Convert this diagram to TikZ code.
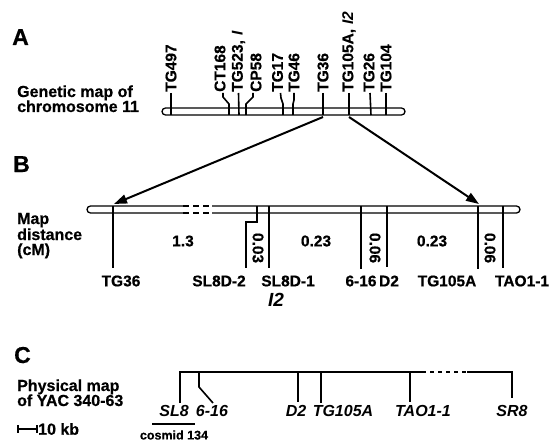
\documentclass[tikz,border=0pt]{standalone}
\usepackage{fontspec}
\setmainfont{Liberation Sans}[BoldFeatures={FakeBold=0.6}]
\usetikzlibrary{arrows.meta}
\begin{document}
\begin{tikzpicture}[x=1pt,y=-1pt,
  lbl/.style={font=\fontsize{15.5}{15}\selectfont\bfseries, inner sep=0pt},
  vlbl/.style={lbl, rotate=90, anchor=west},
  num/.style={font=\fontsize{15.5}{15}\selectfont\bfseries, inner sep=0pt},
  side/.style={font=\fontsize{16}{16}\selectfont\bfseries, inner sep=0pt, anchor=base west},
  panel/.style={font=\fontsize{23}{23}\selectfont\bfseries, inner sep=0pt, anchor=base west},
  tick/.style={line width=1.6pt},
  barln/.style={line width=1.3pt, rounded corners=3.5pt},
  bigarrow/.style={line width=2pt, -{Triangle[length=13pt,width=9pt]}},
  clbl/.style={font=\fontsize{16}{16}\selectfont\bfseries\itshape, inner sep=0pt}
]
\useasboundingbox (0,0) rectangle (554,441);

% ---------- Panel A ----------
\node[panel] (pA) at (12,45) {A};
\node[side] (ga1) at (17,97) {Genetic map of};
\node[side] (ga2) at (17,112) {chromosome 11};

\draw[barln] (162,108) rectangle (405,115);

\node[vlbl] (a1) at (171,92) {TG497};
\node[vlbl] (a2) at (220,92) {CT168};
\node[vlbl] (a3) at (238.5,92) {TG523, \textit{I}};
\node[vlbl] (a4) at (256,92) {CP58};
\node[vlbl] (a5) at (277.5,92) {TG17};
\node[vlbl] (a6) at (294,92) {TG46};
\node[vlbl] (a7) at (323,92) {TG36};
\node[vlbl] (a8) at (349,92) {TG105A, \textit{I2}};
\node[vlbl] (a9) at (369,92) {TG26};
\node[vlbl] (a10) at (386,92) {TG104};

\draw[tick] (a1.west) ++(0,1) -- (171,115);
\draw[tick] (a2.west) ++(3,1) -- (223,97) -- (229,104) -- (229,115);
\draw[tick] (a3.west) ++(0,1) -- (239,115);
\draw[tick] (a4.west) ++(-3,1) -- (253,97) -- (246,104) -- (246,115);
\draw[tick] (a5.west) ++(3,1) -- (281,98) -- (283,104) -- (283,115);
\draw[tick] (a6.west) ++(0,1) -- (294,100) -- (293,104) -- (293,115);
\draw[tick] (a7.west) ++(0,1) -- (323,115);
\draw[tick] (a8.west) ++(0,1) -- (349,115);
\draw[tick] (a9.west) ++(1,1) -- (371,115);
\draw[tick] (a10.west) ++(0,1) -- (386,115);

\coordinate (s1) at (323,117);
\coordinate (s2) at (349,117);
\coordinate (t1) at (114,204);
\coordinate (t2) at (479,204);
\draw[bigarrow] (s1) -- (t1);
\draw[bigarrow] (s2) -- (t2);

% ---------- Panel B ----------
\node[panel] (pB) at (13,172) {B};
\node[side] (mb1) at (17,224) {Map};
\node[side] (mb2) at (17,240) {distance};
\node[side] (mb3) at (17,255) {(cM)};

\draw[barln] (87,206) rectangle (520,213);
\fill[white] (183,203) rectangle (212,216);
\draw[line width=1.3pt, dash pattern=on 6pt off 4pt] (183,206) -- (212,206);
\draw[line width=1.3pt, dash pattern=on 6pt off 4pt] (183,213) -- (212,213);

\coordinate (b1) at (113,268);
\coordinate (b2) at (246,268);
\coordinate (b3) at (269,268);
\coordinate (b4) at (361,269);
\coordinate (b5) at (387,267);
\coordinate (b6) at (478,269);
\coordinate (b7) at (503,268);
\draw[tick] (113,206) -- (b1);
\draw[tick] (257,206) -- (257,222) -- (246,222) -- (b2);
\draw[tick] (269,206) -- (b3);
\draw[tick] (361,206) -- (b4);
\draw[tick] (387,206) -- (b5);
\draw[tick] (478,206) -- (b6);
\draw[tick] (503,206) -- (b7);

\node[lbl] (bl1) at (121,281) {TG36};
\node[lbl] (bl2) at (219,281) {SL8D-2};
\node[lbl] (bl3) at (288,281) {SL8D-1};
\node[lbl] (bl4) at (361,281) {6-16};
\node[lbl] (bl5) at (389,281) {D2};
\node[lbl] (bl6) at (447,281) {TG105A};
\node[lbl] (bl7) at (522,281) {TAO1-1};
\node[font=\fontsize{19}{19}\selectfont\bfseries\itshape, inner sep=0pt] (i2) at (276,300) {I2};

\node[num] (n1) at (183,241) {1.3};
\node[num, rotate=-90] (n2) at (258,248) {0.03};
\node[num] (n3) at (316,241) {0.23};
\node[num, rotate=-90] (n4) at (375,248) {0.06};
\node[num] (n5) at (432,241) {0.23};
\node[num, rotate=-90] (n6) at (490,248) {0.06};

% ---------- Panel C ----------
\node[panel] (pC) at (14,363) {C};
\node[side] (pc1) at (17,391) {Physical map};
\node[side] (pc2) at (17,406) {of YAC 340-63};

\draw[tick] (180,403) -- (180,372) -- (422,372);
\draw[tick, dash pattern=on 4pt off 4pt] (422,372) -- (467,372);
\draw[tick] (467,372) -- (512,372) -- (512,398);
\draw[tick] (199,372) -- (199,387) -- (213,403);
\draw[tick] (298,372) -- (298,402);
\draw[tick] (321,372) -- (321,403);
\draw[tick] (410,372) -- (410,402);

\node[clbl] (c1) at (174,411) {SL8};
\node[clbl] (c2) at (212,411) {6-16};
\node[clbl] (c3) at (296,411) {D2};
\node[clbl] (c4) at (343,411) {TG105A};
\node[clbl] (c5) at (423,411) {TAO1-1};
\node[clbl] (c6) at (512,411) {SR8};

\draw[line width=1.3pt] (152,424) -- (195,424);
\node[font=\fontsize{12.5}{12}\selectfont\bfseries, inner sep=0pt] (cos) at (174,435) {cosmid 134};

\draw[line width=1.2pt] (18,425) -- (18,433);
\draw[line width=1.2pt] (18,429) -- (37,429);
\draw[line width=1.2pt] (37,425) -- (37,433);
\node[font=\fontsize{16}{16}\selectfont\bfseries, inner sep=0pt, anchor=west] (kb) at (38,429) {10 kb};
\end{tikzpicture}
\end{document}
